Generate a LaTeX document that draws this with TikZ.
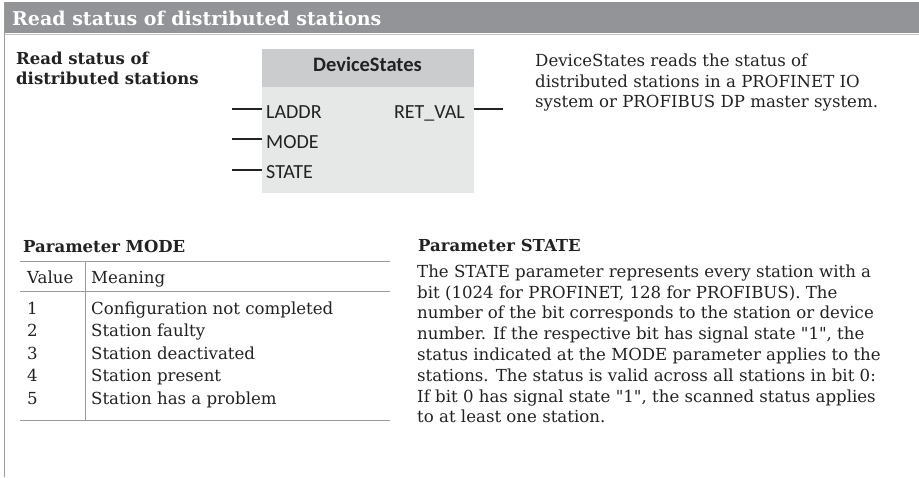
\documentclass[tikz,border=0pt]{standalone}
\usepackage{fontspec}
\setmainfont{DejaVu Serif}
\setsansfont{Carlito}
\usetikzlibrary{positioning}

\definecolor{bandgray}{RGB}{146,148,152}
\definecolor{fbhead}{RGB}{203,204,206}
\definecolor{fbbody}{RGB}{230,231,231}
\definecolor{rulegray}{RGB}{155,155,155}
\definecolor{textdark}{RGB}{34,34,34}

\tikzset{
    bodytext/.style={anchor=base west, inner sep=0pt, text=textdark,
        font=\fontsize{16.6}{20.8}\selectfont},
    headtext/.style={anchor=base west, inner sep=0pt, text=textdark,
        font=\bfseries\fontsize{16.5}{20}\selectfont},
    pintext/.style={inner sep=0pt, text=textdark, font=\sffamily\fontsize{20}{24}\selectfont},
    pinline/.style={line width=1.8pt, draw=textdark},
    tabrule/.style={draw=rulegray, line width=1pt}
}

\begin{document}
\begin{tikzpicture}[x=1pt, y=-1pt]
    \useasboundingbox (0,0) rectangle (919,477);

    % Rahmen und Titelleiste
    \fill[bandgray] (4,2) rectangle (919,33);
    \draw[rulegray!60, line width=1pt] (4,34) -- (919,34);
    \draw[rulegray, line width=1.5pt] (4.5,2) -- (4.5,477);
    \node[anchor=base west, inner sep=0pt, text=white, font=\bfseries\fontsize{19}{22}\selectfont]
        (title) at (12,25) {Read status of distributed stations};

    % Baustein DeviceStates
    \fill[fbbody] (262,49) rectangle (474,193);
    \fill[fbhead] (262,49) rectangle (474,87);
    \node[anchor=base, inner sep=0pt, text=textdark, font=\sffamily\bfseries\fontsize{20.5}{24}\selectfont]
        (fbname) at (367.5,71.7) {DeviceStates};
    \node[headtext] (blocktitle1) at (16,64) {Read status of};
    \node[headtext] (blocktitle2) at (16,84) {distributed stations};

    % Eingaenge und Ausgang
    \node[pintext, anchor=base west] (laddr) at (266,118.3) {LADDR};
    \node[pintext, anchor=base west] (mode) at (266,148.3) {MODE};
    \node[pintext, anchor=base west] (state) at (266,178.3) {STATE};
    \node[pintext, anchor=base east] (retval) at (465,118.3) {RET\_VAL};
    \draw[pinline] (232,109) -- (262,109);
    \draw[pinline] (232,139) -- (262,139);
    \draw[pinline] (232,170) -- (262,170);
    \draw[pinline] (474,109) -- (503,109);

    \node[bodytext] (descr1) at (535,66.7) {DeviceStates reads the status of};
    \node[bodytext] (descr2) at (535,87) {distributed stations in a PROFINET IO};
    \node[bodytext] (descr3) at (535,107.3) {system or PROFIBUS DP master system.};

    % Tabelle Parameter MODE
    \node[headtext] (modehead) at (23,252.3) {Parameter MODE};
    \draw[tabrule] (20,261) -- (390,261);
    \draw[tabrule] (20,291) -- (390,291);
    \draw[tabrule] (20,420) -- (390,420);
    \draw[tabrule] (85,261) -- (85,420);
    \node[bodytext] (valhead) at (27,283.3) {Value};
    \node[bodytext] (meanhead) at (91,283.3) {Meaning};
    \foreach \v/\txt [count=\i] in {1/Configuration not completed, 2/Station faulty,
        3/Station deactivated, 4/Station present, 5/Station has a problem} {
        \node[bodytext] (val\i) at (27,{291.4+22.6*\i}) {\v};
        \node[bodytext] (mean\i) at (91,{291.4+22.6*\i}) {\txt};
    }

    % Parameter STATE
    \node[headtext] (statehead) at (418,251) {Parameter STATE};
    \foreach \ln [count=\i] in {
        {The STATE parameter represents every station with a},
        {bit (1024 for PROFINET, 128 for PROFIBUS). The},
        {number of the bit corresponds to the station or device},
        {number. If the respective bit has signal state \textquotedbl 1\textquotedbl, the},
        {status indicated at the MODE parameter applies to the},
        {stations. The status is valid across all stations in bit 0:},
        {If bit 0 has signal state \textquotedbl 1\textquotedbl, the scanned status applies},
        {to at least one station.}} {
        \node[bodytext] (stateline\i) at (417,{256.5+20.8*\i}) {\ln};
    }
\end{tikzpicture}
\end{document}
